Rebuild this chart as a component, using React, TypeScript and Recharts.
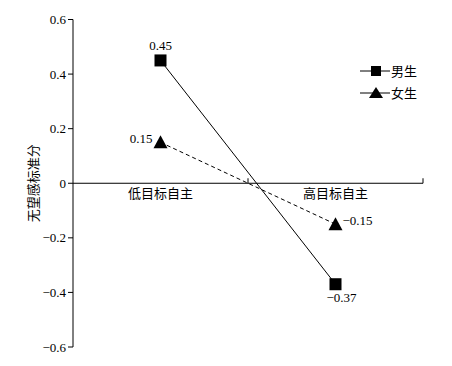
import { LineChart, Line, XAxis, YAxis, ReferenceLine, LabelList } from "recharts";

// values
const categories = ["低目标自主", "高目标自主"];
const maleScores = [0.45, -0.37];
const femaleScores = [0.15, -0.15];
const seriesNames = ["男生", "女生"];
const yTicks = [-0.6, -0.4, -0.2, 0, 0.2, 0.4, 0.6];

const data = categories.map((name, i) => ({
  name,
  male: maleScores[i],
  female: femaleScores[i],
}));

const FONT = "Liberation Serif, DejaVu Serif, serif";
const CJK = "Noto Sans CJK SC, sans-serif";

const fmt = (v: number) => (v === 0 ? "0" : (v < 0 ? "\u2212" : "") + Math.abs(v).toString());

const SquareDot = (p: any) => (
  <rect x={p.cx - 6} y={p.cy - 6} width={12} height={12} fill="#000" />
);

const TriangleDot = (p: any) => (
  <polygon points={`${p.cx},${p.cy - 7} ${p.cx - 7},${p.cy + 6} ${p.cx + 7},${p.cy + 6}`} fill="#000" />
);

const MaleLabel = (p: any) => {
  const { x, y, value, index } = p;
  const top = index === 0;
  return (
    <text x={top ? x : x + 6} y={top ? y - 10 : y + 18} textAnchor="middle" style={{ fontSize: 13, fontFamily: FONT }} fill="#000">
      {fmt(value)}
    </text>
  );
};

const FemaleLabel = (p: any) => {
  const { x, y, value, index } = p;
  const left = index === 0;
  return (
    <text x={left ? x - 8 : x + 7} y={y + 1} textAnchor={left ? "end" : "start"} style={{ fontSize: 13, fontFamily: FONT }} fill="#000">
      {fmt(value)}
    </text>
  );
};

// category names sit just under the zero line, not at the bottom
const CategoryTick = (p: any) => {
  const { x, y, payload } = p;
  const zeroY = y - 163.75;
  return (
    <g>
      <text x={x} y={zeroY + 15} textAnchor="middle" style={{ fontSize: 13, fontFamily: CJK }} fill="#000">
        {payload.value}
      </text>
      <line x1={x + 87.5} x2={x + 87.5} y1={zeroY} y2={zeroY - 5} stroke="#000" />
    </g>
  );
};

const YLabel = (p: any) => {
  const vb = p.viewBox;
  const cx = vb.x + 24.5;
  const cy = vb.y + vb.height / 2;
  return (
    <text x={cx} y={cy} transform={`rotate(-90 ${cx} ${cy})`} textAnchor="middle" dominantBaseline="central" style={{ fontSize: 13, fontFamily: CJK }} fill="#000">
      无望感标准分
    </text>
  );
};

function LegendBox() {
  return (
    <div style={{ position: "absolute", left: 352, top: 52, fontFamily: CJK, fontSize: 13, color: "#000" }}>
      {seriesNames.map((n, i) => (
        <div key={n} style={{ display: "flex", alignItems: "center", height: 22 }}>
          <svg width={31} height={22}>
            <line x1={0} x2={30} y1={11} y2={11} stroke="#000" />
            {i === 0 ? (
              <rect x={11} y={6} width={10} height={10} fill="#000" />
            ) : (
              <polygon points="16,5 9,16 23,16" fill="#000" />
            )}
          </svg>
          <span style={{ lineHeight: "22px" }}>{n}</span>
        </div>
      ))}
    </div>
  );
}

export default function App() {
  return (
    <div style={{ position: "relative", width: 436, height: 350, fontFamily: FONT }}>
      <LineChart width={436} height={350} data={data} margin={{ top: 11.5, right: 21, bottom: 0, left: 0 }}>
        <XAxis
          dataKey="name"
          axisLine={false}
          tickLine={false}
          tickSize={0}
          tickMargin={0}
          height={11}
          padding={{ left: 87.5, right: 87.5 }}
          tick={<CategoryTick />}
        />
        <YAxis
          domain={[-0.6, 0.6]}
          ticks={yTicks}
          tickFormatter={fmt}
          width={65}
          tickSize={5}
          tickMargin={2}
          stroke="#000"
          tick={{ fill: "#000", fontSize: 13, style: { fontFamily: FONT } }}
          label={{ content: <YLabel /> }}
        />
        <ReferenceLine y={0} stroke="#000" />
        <Line dataKey="male" name={seriesNames[0]} stroke="#000" strokeWidth={1} dot={<SquareDot />} isAnimationActive={false}>
          <LabelList dataKey="male" content={<MaleLabel />} />
        </Line>
        <Line dataKey="female" name={seriesNames[1]} stroke="#000" strokeWidth={1} strokeDasharray="4 3" dot={<TriangleDot />} isAnimationActive={false}>
          <LabelList dataKey="female" content={<FemaleLabel />} />
        </Line>
      </LineChart>
      <LegendBox />
    </div>
  );
}
